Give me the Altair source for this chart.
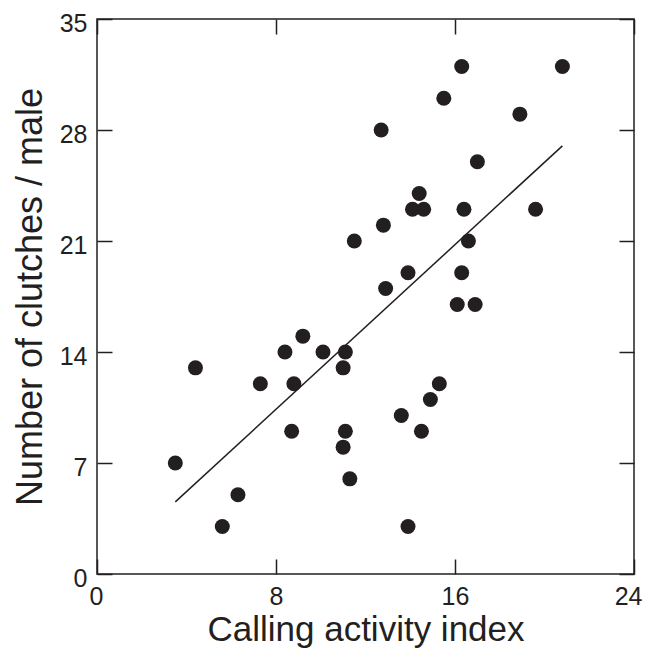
import altair as alt
import pandas as pd

# Data
calling_index = [3.5, 4.4, 5.6, 6.3, 7.3, 8.4, 8.8, 8.7, 9.2, 10.1,
                 11.0, 11.1, 11.0, 11.1, 11.3, 11.5, 12.7, 12.8, 12.9, 13.6,
                 13.9, 13.9, 14.1, 14.4, 14.6, 14.5, 14.9, 15.3, 15.5, 16.1,
                 16.3, 16.3, 16.4, 16.6, 16.9, 17.0, 18.9, 19.6, 20.8]
clutches = [7, 13, 3, 5, 12, 14, 12, 9, 15, 14,
            13, 14, 8, 9, 6, 21, 28, 22, 18, 10,
            19, 3, 23, 24, 23, 9, 11, 12, 30, 17,
            32, 19, 23, 21, 17, 26, 29, 23, 32]

fit_x = [3.5, 20.8]
fit_y = [4.55, 27.0]

x_ticks = [0, 8, 16, 24]
y_ticks = [0, 7, 14, 21, 28, 35]

W, H = 537, 555
INK = "#231f20"
FONT = "Liberation Sans"

pts = pd.DataFrame({"x": calling_index, "y": clutches})
fit = pd.DataFrame({"x": fit_x, "y": fit_y})

xs = alt.Scale(domain=[0, 24], nice=False, zero=False)
ys = alt.Scale(domain=[0, 35], nice=False, zero=False)


def tick_axis(orient, values, offset):
    return alt.Axis(orient=orient, offset=offset, values=values, labels=False,
                    domain=False, ticks=True, tickSize=15, tickWidth=1.5,
                    tickColor=INK, grid=False, title=None)


points = alt.Chart(pts).mark_circle(size=225, color=INK, opacity=1).encode(
    x=alt.X("x:Q", scale=xs,
            axis=alt.Axis(orient="bottom", values=x_ticks,
                          title="Calling activity index",
                          ticks=False, tickSize=0, domain=False, grid=False,
                          labelFlush=True, labelFlushOffset=8,
                          labelPadding=10, titlePadding=3,
                          labelFontSize=25, titleFontSize=35)),
    y=alt.Y("y:Q", scale=ys,
            axis=alt.Axis(orient="left", values=y_ticks,
                          title="Number of clutches / male",
                          ticks=False, tickSize=0, domain=False, grid=False,
                          labelFlush=False, labelOffset=4,
                          labelPadding=10, titlePadding=10,
                          labelFontSize=25, titleFontSize=36)),
)

line = alt.Chart(fit).mark_line(color=INK, strokeWidth=1.5).encode(
    x=alt.X("x:Q", scale=xs, axis=tick_axis("top", x_ticks, -H)),
    y=alt.Y("y:Q", scale=ys, axis=tick_axis("right", y_ticks, -W)),
)

ghost = alt.Chart(fit).mark_line(color=INK, strokeOpacity=0).encode(
    x=alt.X("x:Q", scale=xs, axis=tick_axis("bottom", x_ticks, -H)),
    y=alt.Y("y:Q", scale=ys, axis=tick_axis("left", y_ticks, -W)),
)

chart = alt.layer(points, line, ghost).properties(
    width=W, height=H,
    autosize=alt.AutoSizeParams(type="none"),
    padding={"left": 89, "top": 11, "right": 9, "bottom": 75},
).configure_view(
    stroke=INK, strokeWidth=1.5
).configure_axis(
    labelFont=FONT, titleFont=FONT, labelColor=INK, titleColor=INK,
    titleFontWeight="normal"
)

chart.save("out.html", embed_options={"renderer": "svg", "actions": False})
